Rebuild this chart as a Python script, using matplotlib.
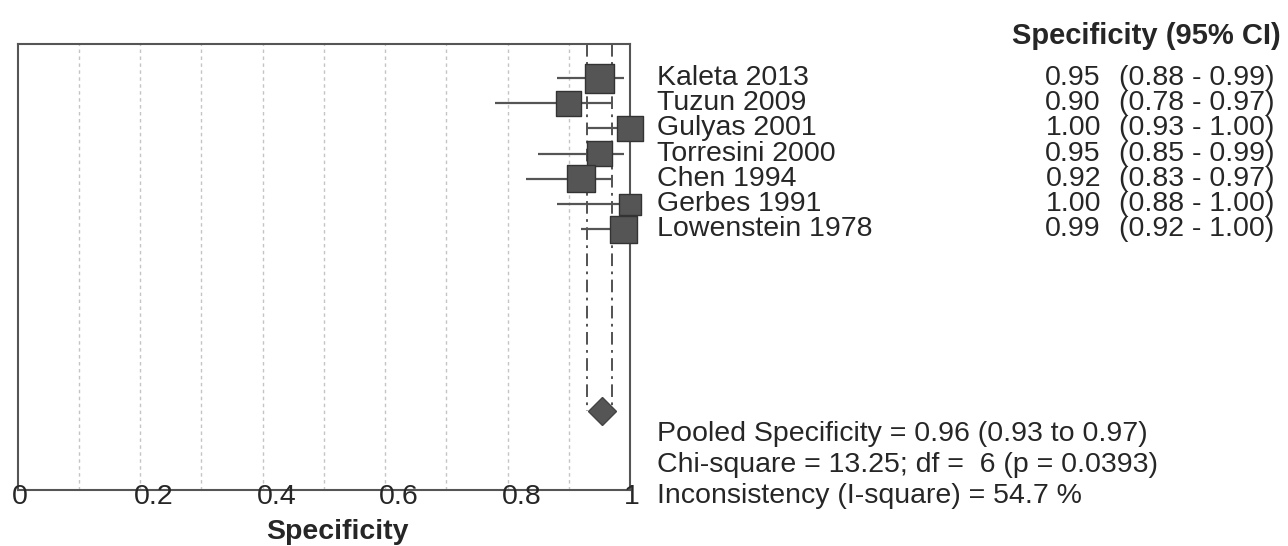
import matplotlib
matplotlib.use("Agg")
import matplotlib.pyplot as plt
from matplotlib.transforms import blended_transform_factory, ScaledTranslation

# ---- data ----
studies = ["Kaleta 2013", "Tuzun 2009", "Gulyas 2001", "Torresini 2000",
           "Chen 1994", "Gerbes 1991", "Lowenstein 1978"]
spec = [0.95, 0.90, 1.00, 0.95, 0.92, 1.00, 0.99]
ci_low = [0.88, 0.78, 0.93, 0.85, 0.83, 0.88, 0.92]
ci_high = [0.99, 0.97, 1.00, 0.99, 0.97, 1.00, 1.00]
weights = [16.8, 12.5, 12.5, 12.0, 14.6, 8.8, 14.6]
pooled = 0.955
pooled_low = 0.93
pooled_high = 0.97
stats_lines = ["Pooled Specificity = 0.96 (0.93 to 0.97)",
               "Chi-square = 13.25; df =  6 (p = 0.0393)",
               "Inconsistency (I-square) = 54.7 %"]
xtick_vals = [0, 0.2, 0.4, 0.6, 0.8, 1]
xtick_labels = ["0", "0.2", "0.4", "0.6", "0.8", "1"]
grid_vals = [0.1, 0.2, 0.3, 0.4, 0.5, 0.6, 0.7, 0.8, 0.9]

plt.rcParams['font.family'] = ['Liberation Sans', 'DejaVu Sans']
TXT = '#262626'
FS = 20.5

fig = plt.figure(figsize=(12.88, 5.46), dpi=100)
ax = fig.add_axes([17.7/1288, 1-490/546, (630-17.7)/1288, (490-44)/546])
ax.set_xlim(0, 1)
ypos = list(range(len(studies)))
y_diamond = 13.21
ax.set_ylim(16.35, -1.35)

for g in grid_vals:
    ax.axvline(g, color='#c4c4c4', lw=1.0, ls=(0, (2.5, 2.5)), zorder=0)

# pooled CI lines
ax.vlines([pooled_low, pooled_high], -1.35, y_diamond, colors='#444444',
          lw=1.3, linestyles=[(0, (7, 3, 1.5, 3))], zorder=1)

# CI bars
ax.hlines(ypos, ci_low, ci_high, colors='#555555', lw=1.6, zorder=2)
sizes = [(7.08 * w ** 0.5 * 0.72) ** 2 for w in weights]
ax.scatter(spec, ypos, s=sizes, marker='s', c='#555555', edgecolors='#333333',
           linewidths=1, zorder=3, clip_on=False)

# pooled diamond
ax.plot([pooled], [y_diamond], marker='D', ms=14, color='#555555',
        markeredgecolor='#444444', mew=1, zorder=3)

for s in ax.spines.values():
    s.set_color('#555555')
    s.set_linewidth(1.5)
ax.set_xticks([])
ax.set_yticks([])

# tick labels (left aligned, slightly left of tick as in original)
tr = blended_transform_factory(ax.transData, fig.transFigure) + \
    ScaledTranslation(-6/100, 0, fig.dpi_scale_trans)
for v, lab in zip(xtick_vals, xtick_labels):
    fig.text(v, 1-497/546, lab, transform=tr, ha='left', va='center',
             fontsize=FS, color=TXT)

fig.text(337/1288, 1-532/546, "Specificity", ha='center', va='center',
         fontsize=FS, fontweight='bold', color=TXT)

# right-hand table
trow = blended_transform_factory(fig.transFigure, ax.transData)
for y, name, e, lo, hi in zip(ypos, studies, spec, ci_low, ci_high):
    fig.text(657/1288, y, name, transform=trow, ha='left', va='center',
             fontsize=FS, color=TXT)
    fig.text(1101/1288, y, f"{e:.2f}", transform=trow, ha='right',
             va='center', fontsize=FS, color=TXT)
    fig.text(1119/1288, y, f"({lo:.2f} - {hi:.2f})", transform=trow,
             ha='left', va='center', fontsize=FS, color=TXT)

fig.text(1012/1288, 1-36/546, "Specificity (95% CI)", ha='left', va='center',
         fontsize=21, fontweight='bold', color=TXT)

for i, line in enumerate(stats_lines):
    fig.text(657/1288, 1-(434 + 31*i)/546, line, ha='left', va='center',
             fontsize=FS, color=TXT)

fig.savefig("out.png", dpi=100)
